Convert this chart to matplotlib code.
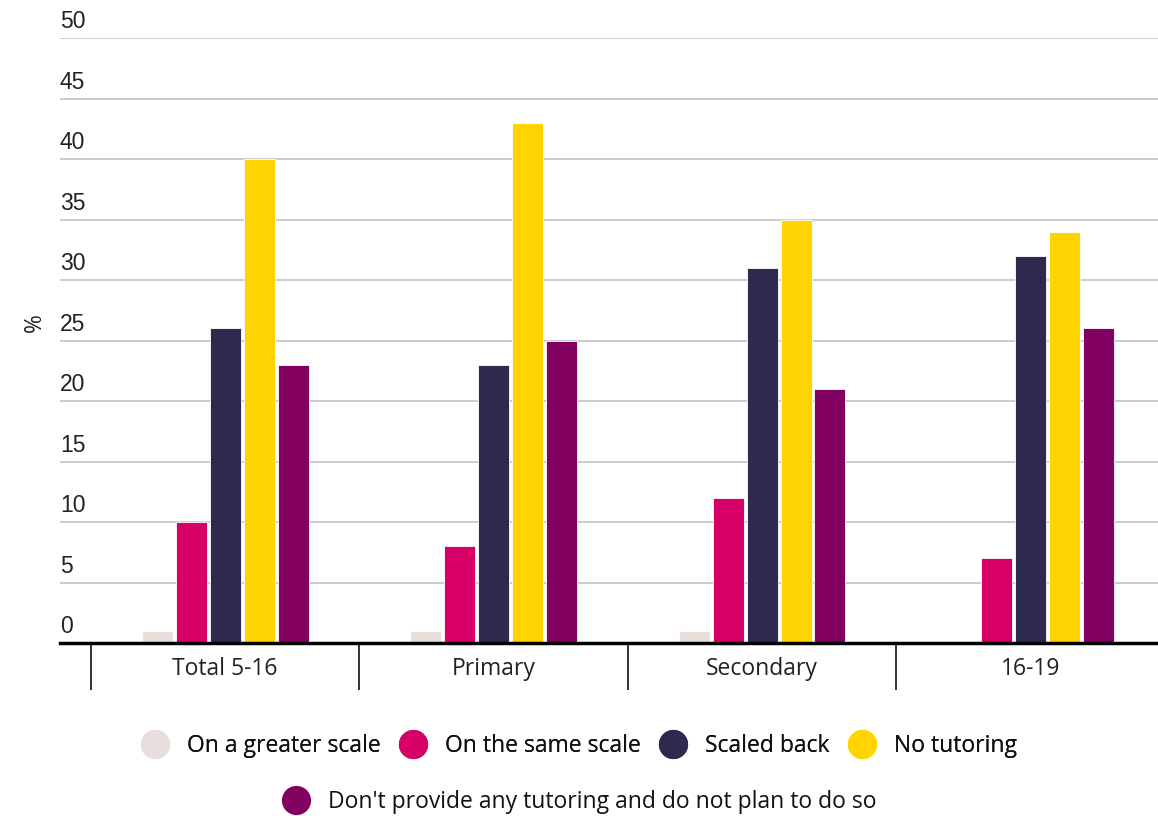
import numpy as np
import matplotlib
matplotlib.use("Agg")
import matplotlib.pyplot as plt
from matplotlib.lines import Line2D

categories = ['Total 5-16', 'Primary', 'Secondary', '16-19']
series = [
    'On a greater scale',
    'On the same scale',
    'Scaled back',
    'No tutoring',
    "Don't provide any tutoring and do not plan to do so",
]
values = {
    'On a greater scale': [1, 1, 1, 0],
    'On the same scale': [10, 8, 12, 7],
    'Scaled back': [26, 23, 31, 32],
    'No tutoring': [40, 43, 35, 34],
    "Don't provide any tutoring and do not plan to do so": [23, 25, 21, 26],
}
colors = ['#E8DEDB', '#D70066', '#2E2A4F', '#FFD400', '#820060']
yticks = [0, 5, 10, 15, 20, 25, 30, 35, 40, 45, 50]

plt.rcParams['font.family'] = ['Open Sans', 'DejaVu Sans']

fig = plt.figure(figsize=(11.58, 8.16), dpi=100)
ax = fig.add_axes([0.0518, 0.212, 0.9482, 0.7414])

x = np.arange(len(categories))
pitch = 0.1266
width = 0.1155
for i, name in enumerate(series):
    offset = (i - 2) * pitch
    ax.bar(x + offset, values[name], width=width, color=colors[i],
           edgecolor='white', linewidth=0.6, zorder=3)

ax.set_xlim(-0.615, 3.475)
ax.set_ylim(0, 50)

# gridlines + tick labels sitting above each line
for v in yticks:
    if v > 0:
        ax.axhline(v, color='#cccccc', linewidth=1.4, zorder=1)
    ax.text(0.0, v + 0.4, str(v), transform=ax.get_yaxis_transform(),
            ha='left', va='bottom', fontsize=16.5, color='#222222',
            family=['Liberation Sans', 'DejaVu Sans'])
ax.set_yticks([])

for s in ['left', 'right', 'top']:
    ax.spines[s].set_visible(False)
ax.spines['bottom'].set_linewidth(2.5)
ax.spines['bottom'].set_color('black')
ax.spines['bottom'].set_zorder(4)

ax.set_xticks(x)
ax.set_xticklabels(categories, fontsize=16.5, color='#222222')
ax.tick_params(axis='x', which='major', length=0, pad=10)
# separators between the category groups
ax.set_xticks(x - 0.5, minor=True)
ax.tick_params(axis='x', which='minor', length=34, width=1.3, color='#222222')

ax.set_ylabel('%', fontsize=16.5, color='#222222')
ax.yaxis.set_label_coords(-0.012, 0.53)

handles = [Line2D([], [], marker='o', linestyle='', markersize=20,
                  markerfacecolor=c, markeredgecolor=c) for c in colors]
leg_kw = dict(loc='center', frameon=False, fontsize=16.5,
              handletextpad=0.8, handlelength=1.2, labelcolor='#111111')
leg1 = fig.legend(handles[:4], series[:4], ncol=4,
                  bbox_to_anchor=(0.5, 1 - 746 / 816), columnspacing=0.8,
                  **leg_kw)
leg2 = fig.legend(handles[4:], series[4:], ncol=1,
                  bbox_to_anchor=(0.5, 1 - 802 / 816), **leg_kw)
fig.add_artist(leg1)

fig.savefig('out.png', dpi=100)
